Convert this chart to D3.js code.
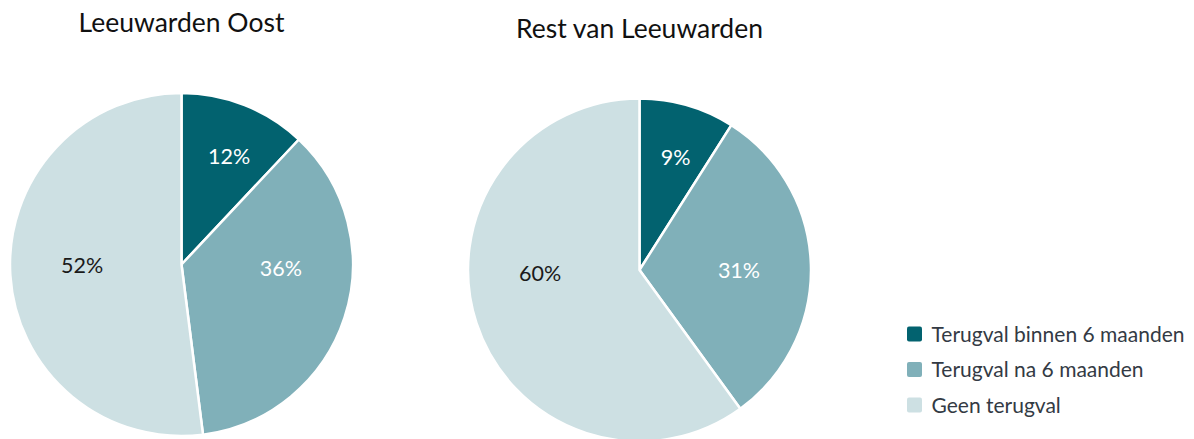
<!DOCTYPE html>
<html>
<head>
<meta charset="utf-8">
<script src="https://cdn.jsdelivr.net/npm/d3@7"></script>
<style>
  html, body { margin: 0; padding: 0; background: #fff; }
  svg { display: block; font-family: Lato, "Noto Sans", sans-serif; }
</style>
</head>
<body>
<svg id="chart" width="1194" height="439"></svg>
<script>
const categories = ["Terugval binnen 6 maanden", "Terugval na 6 maanden", "Geen terugval"];
const regions = ["Leeuwarden Oost", "Rest van Leeuwarden"];
const valuesOost = [12, 36, 52];
const valuesRest = [9, 31, 60];
const colors = ["#02626f", "#80b0b9", "#cde0e3"];
const labelColors = ["#ffffff", "#ffffff", "#1a1a1a"];

const svg = d3.select("#chart");
const radius = 171.5;
const pies = [
  { title: regions[0], values: valuesOost, cx: 181.5, cy: 264.5 },
  { title: regions[1], values: valuesRest, cx: 639.5, cy: 270 }
];

const pie = d3.pie().sort(null).value(d => d);
const arc = d3.arc().innerRadius(0).outerRadius(radius);
const color = d3.scaleOrdinal().domain(categories).range(colors);

pies.forEach(p => {
  const g = svg.append("g").attr("transform", `translate(${p.cx},${p.cy})`);
  const arcs = pie(p.values);
  g.selectAll("path").data(arcs).join("path")
    .attr("d", arc)
    .attr("fill", (d, i) => color(categories[i]))
    .attr("stroke", "#fff")
    .attr("stroke-width", 2.5)
    .attr("stroke-linejoin", "round");

  g.selectAll("text.lbl").data(arcs).join("text")
    .attr("class", "lbl")
    .attr("transform", d => {
      const a = (d.startAngle + d.endAngle) / 2;
      const span = d.endAngle - d.startAngle;
      let rr = span < Math.PI / 2 ? 0.69 * radius : 0.58 * radius;
      let ang = a;
      if (span >= Math.PI / 2) {
        const target = a < Math.PI ? Math.PI / 2 : 3 * Math.PI / 2;
        ang = a + (target - a) * 0.9;
      } else {
        ang = a * 1.1;
      }
      return `translate(${rr * Math.sin(ang)},${-rr * Math.cos(ang)})`;
    })
    .attr("text-anchor", "middle")
    .attr("dy", "0.37em")
    .attr("font-size", 21.5)
    .attr("fill", (d, i) => labelColors[i])
    .text(d => d.data + "%");

  svg.append("text")
    .attr("x", p.cx)
    .attr("y", p.cy - 232.5)
    .attr("text-anchor", "middle")
    .attr("font-size", 26.5)
    .attr("fill", "#111")
    .text(p.title);
});

const legend = svg.append("g").attr("transform", "translate(907,334)");
const rows = legend.selectAll("g").data(categories).join("g")
  .attr("transform", (d, i) => `translate(0,${i * 35.5})`);
rows.append("rect")
  .attr("x", 0).attr("y", -7.5)
  .attr("width", 15).attr("height", 15)
  .attr("rx", 2)
  .attr("fill", d => color(d));
rows.append("text")
  .attr("x", 24.5)
  .attr("dy", "0.36em")
  .attr("font-size", 21)
  .attr("fill", "#333a44")
  .text(d => d);
</script>
</body>
</html>
